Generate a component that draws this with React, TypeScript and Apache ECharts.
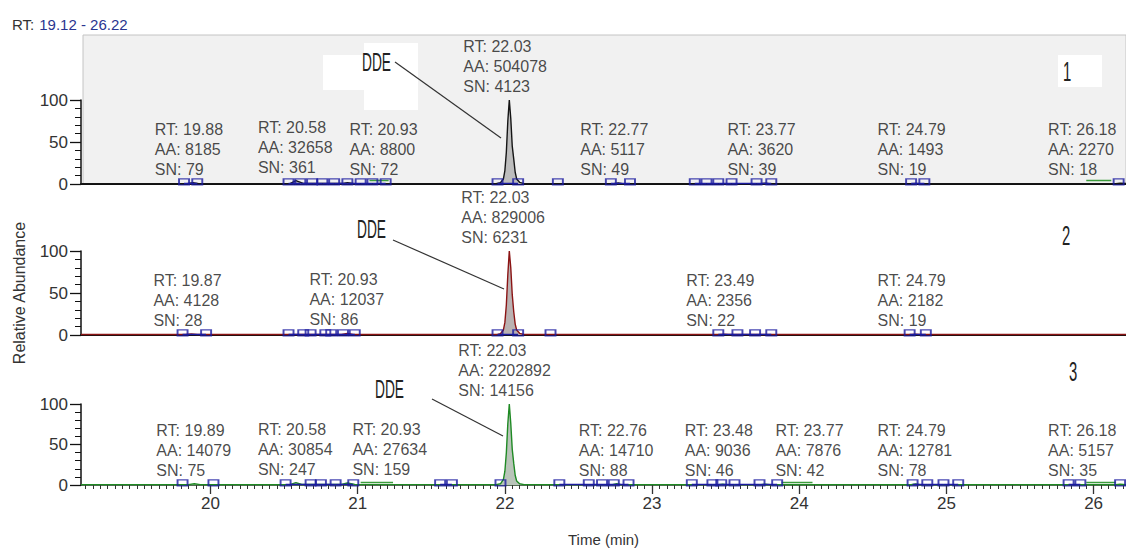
import React, { useEffect, useRef } from 'react';
import * as echarts from 'echarts';

const FONT = '"Liberation Sans", Arial, sans-serif';

const RT_MIN = 19.12;
const RT_MAX = 26.22;
const xTickLabels = [20, 21, 22, 23, 24, 25, 26];
const yTickInterval = 50;

// chromatogram traces [time (min), relative abundance %]
const trace1: [number, number][] = [
  [19.12, 0.5], [19.84, 0.5], [19.88, 1.6], [19.92, 0.5],
  [20.54, 0.5], [20.58, 4.0], [20.63, 0.8], [20.90, 0.6], [20.93, 1.6], [20.97, 0.6],
  [21.94, 0.5], [21.97, 1.5], [21.99, 6], [22.00, 16], [22.01, 38], [22.02, 75], [22.03, 100],
  [22.04, 78], [22.05, 45], [22.06, 30], [22.07, 14], [22.08, 6], [22.10, 2], [22.13, 0.5],
  [22.74, 0.5], [22.77, 1.2], [22.80, 0.5], [23.74, 0.5], [23.77, 1.0], [23.80, 0.5],
  [24.76, 0.5], [24.79, 0.7], [24.82, 0.5], [26.15, 0.5], [26.18, 1.0], [26.22, 0.6],
];
const trace2: [number, number][] = [
  [19.12, 0.6], [19.83, 0.6], [19.87, 1.2], [19.91, 0.6], [20.89, 0.6], [20.93, 1.8], [20.97, 0.6],
  [21.95, 0.6], [21.97, 1.5], [21.99, 6], [22.00, 15], [22.01, 36], [22.02, 72], [22.03, 100],
  [22.04, 80], [22.05, 48], [22.06, 28], [22.07, 13], [22.08, 6], [22.10, 2], [22.13, 0.6],
  [23.46, 0.6], [23.49, 1.0], [23.52, 0.6], [24.76, 0.6], [24.79, 1.0], [24.82, 0.6], [26.22, 0.6],
];
const trace3: [number, number][] = [
  [19.12, 0.5], [19.85, 0.5], [19.89, 1.6], [19.93, 0.5], [20.54, 0.5], [20.58, 3.0], [20.62, 0.6],
  [20.89, 0.6], [20.93, 2.5], [20.98, 0.8], [21.94, 0.5], [21.97, 1.5], [21.99, 7], [22.00, 17],
  [22.01, 40], [22.02, 76], [22.03, 100], [22.04, 76], [22.05, 44], [22.06, 27], [22.07, 12],
  [22.08, 5], [22.10, 1.5], [22.13, 0.5], [22.73, 0.5], [22.76, 1.5], [22.79, 0.5], [23.45, 0.5],
  [23.48, 1.1], [23.51, 0.5], [23.74, 0.5], [23.77, 1.0], [23.80, 0.5], [24.76, 0.5], [24.79, 1.4],
  [24.82, 0.5], [26.15, 0.5], [26.18, 0.9], [26.22, 0.5],
];

// peak annotations [RT, AA, SN]
const peaks1: [number, number, number][] = [
  [19.88, 8185, 79], [20.58, 32658, 361], [20.93, 8800, 72], [22.03, 504078, 4123],
  [22.77, 5117, 49], [23.77, 3620, 39], [24.79, 1493, 19], [26.18, 2270, 18],
];
const peaks2: [number, number, number][] = [
  [19.87, 4128, 28], [20.93, 12037, 86], [22.03, 829006, 6231], [23.49, 2356, 22], [24.79, 2182, 19],
];
const peaks3: [number, number, number][] = [
  [19.89, 14079, 75], [20.58, 30854, 247], [20.93, 27634, 159], [22.03, 2202892, 14156],
  [22.76, 14710, 88], [23.48, 9036, 46], [23.77, 7876, 42], [24.79, 12781, 78], [26.18, 5157, 35],
];

// integration boundary markers (min)
const squares1 = [19.82, 19.91, 20.53, 20.61, 20.69, 20.76, 20.84, 20.93, 21.02, 21.10, 21.19,
  21.95, 22.09, 22.36, 22.72, 22.85, 23.29, 23.37, 23.45, 23.54, 23.71, 23.81, 24.76, 24.85, 26.17];
const squares2 = [19.81, 19.97, 20.53, 20.63, 20.68, 20.78, 20.82, 20.90, 20.98, 21.95, 22.09,
  22.31, 23.45, 23.58, 23.70, 23.81, 24.75, 24.86];
const squares3 = [19.81, 20.02, 20.51, 20.68, 20.75, 20.85, 20.97, 21.56, 21.64, 21.97, 22.37,
  22.57, 22.66, 22.74, 22.84, 23.27, 23.41, 23.47, 23.56, 23.73, 23.85, 24.77, 24.87, 24.98, 25.08,
  25.83, 25.91, 26.18];

// green baseline segments [start, end]
const green1: [number, number][] = [[21.08, 21.21], [25.95, 26.12]];
const green2: [number, number][] = [];
const green3: [number, number][] = [[21.02, 21.24], [23.88, 24.09], [25.95, 26.15]];

// ---- styling (not data) ----
const GRID_TOP = [100, 251, 404];
const GRID_H = 84;
const GRID_LEFT = 81;
const LABEL_DX_DEFAULT = -38;
const labelDx: Record<string, number> = {
  '0:20.93': 2, '2:20.93': 5, '2:23.77': 10, '0:26.18': -72, '2:26.18': -72,
  '0:22.03': -46, '1:22.03': -48, '2:22.03': -51,
};
const panelStyle = [
  { line: '#151515', fill: '#bdbdbd', axis: '#111' },
  { line: '#8b1414', fill: '#bab2b2', axis: '#111' },
  { line: '#1f8a24', fill: '#b9c4b9', axis: '#1d3d1d' },
];
const BLUE = '#1c1ca0';
const GREEN_MARK = '#3c9c3c';

const panels = [
  { trace: trace1, peaks: peaks1, squares: squares1, green: green1 },
  { trace: trace2, peaks: peaks2, squares: squares2, green: green2 },
  { trace: trace3, peaks: peaks3, squares: squares3, green: green3 },
];

function peakHeight(trace: [number, number][], rt: number) {
  let h = 0;
  for (const [t, v] of trace) if (Math.abs(t - rt) <= 0.03 && v > h) h = v;
  return h;
}

function buildOption() {
  const minorTicks: number[] = [];
  for (let k = Math.ceil(RT_MIN * 20); k <= Math.floor(RT_MAX * 20); k++) {
    if (k % 20 !== 0) minorTicks.push(k / 20);
  }

  const grid = panels.map((_, i) => ({ left: GRID_LEFT, right: 0, top: GRID_TOP[i], height: GRID_H }));

  const xAxis: any[] = panels.map((_, i) => ({
    gridIndex: i,
    type: 'value',
    min: RT_MIN,
    max: RT_MAX,
    axisLine: { show: true, onZero: false, lineStyle: { color: panelStyle[i].axis, width: i === 2 ? 1.5 : 2 } },
    axisTick: i === 2
      ? { show: true, customValues: xTickLabels, length: 9, lineStyle: { color: '#333', width: 1.3 } }
      : { show: false },
    axisLabel: i === 2
      ? { show: true, customValues: xTickLabels, fontSize: 17, color: '#333', margin: 10, fontFamily: FONT }
      : { show: false },
    splitLine: { show: false },
    name: i === 2 ? 'Time (min)' : '',
    nameLocation: 'middle',
    nameGap: 47,
    nameTextStyle: { fontSize: 15, color: '#333', fontFamily: FONT },
  }));
  xAxis.push({
    gridIndex: 2,
    type: 'value',
    min: RT_MIN,
    max: RT_MAX,
    position: 'bottom',
    axisLine: { show: false },
    axisTick: { show: true, customValues: minorTicks, length: 4, lineStyle: { color: '#333', width: 1 } },
    axisLabel: { show: false },
    splitLine: { show: false },
  });

  const yAxis = panels.map((_, i) => ({
    gridIndex: i,
    type: 'value',
    min: 0,
    max: 100,
    interval: yTickInterval,
    axisLine: { show: true, lineStyle: { color: '#111', width: 1.5 } },
    axisTick: { show: true, length: 11, lineStyle: { color: '#111', width: 1.3 } },
    minorTick: { show: true, splitNumber: 5, length: 6, lineStyle: { color: '#111', width: 1 } },
    axisLabel: { fontSize: 17, color: '#333', margin: 13, fontFamily: FONT },
    splitLine: { show: false },
    minorSplitLine: { show: false },
    name: i === 1 ? 'Relative Abundance' : '',
    nameLocation: 'middle',
    nameGap: 54,
    nameTextStyle: { fontSize: 16, color: '#333', fontFamily: FONT },
  }));

  const series: any[] = [];
  panels.forEach((p, i) => {
    series.push({
      type: 'line',
      xAxisIndex: i,
      yAxisIndex: i,
      data: p.trace,
      showSymbol: false,
      symbol: 'none',
      lineStyle: { color: panelStyle[i].line, width: 1.4 },
      areaStyle: { color: panelStyle[i].fill, opacity: 1 },
      z: 3,
    });
    series.push({
      type: 'lines',
      coordinateSystem: 'cartesian2d',
      xAxisIndex: i,
      yAxisIndex: i,
      data: p.green.map(([a, b]) => ({ coords: [[a, 4], [b, 4]] })),
      lineStyle: { color: GREEN_MARK, width: 1.3, opacity: 1 },
      z: 4,
    });
    const segs: { coords: number[][] }[] = [];
    for (let k = 0; k + 1 < p.squares.length; k++) {
      if (p.squares[k + 1] - p.squares[k] < 0.2) segs.push({ coords: [[p.squares[k], 1.2], [p.squares[k + 1], 1.2]] });
    }
    series.push({
      type: 'lines',
      coordinateSystem: 'cartesian2d',
      xAxisIndex: i,
      yAxisIndex: i,
      data: segs,
      lineStyle: { color: BLUE, width: 1.3, opacity: 1 },
      z: 4,
    });
    series.push({
      type: 'scatter',
      xAxisIndex: i,
      yAxisIndex: i,
      data: p.squares.map((t) => [t, 2.6]),
      symbol: 'rect',
      symbolSize: [10, 6],
      itemStyle: { color: 'rgba(0,0,0,0)', borderColor: BLUE, borderWidth: 1.5 },
      z: 5,
      silent: true,
    });
    series.push({
      type: 'scatter',
      xAxisIndex: i,
      yAxisIndex: i,
      data: p.peaks.map(([rt]) => {
        const key = `${i}:${rt.toFixed(2)}`;
        const dx = labelDx[key] !== undefined ? labelDx[key] : LABEL_DX_DEFAULT;
        return { value: [rt, peakHeight(p.trace, rt)], label: { offset: [dx, 0] } };
      }),
      symbolSize: 1,
      itemStyle: { color: 'rgba(0,0,0,0)' },
      z: 6,
      label: {
        show: true,
        position: 'top',
        distance: 3,
        align: 'left',
        verticalAlign: 'bottom',
        fontSize: 16,
        lineHeight: 20,
        color: '#1a1a1a',
        fontFamily: FONT,
        formatter: (prm: any) => {
          const [rt, aa, sn] = p.peaks[prm.dataIndex];
          return `RT: ${rt.toFixed(2)}\nAA: ${aa}\nSN: ${sn}`;
        },
      },
    });
  });

  const condensed = (text: string, x: number, y: number, size: number) => ({
    type: 'text',
    x,
    y,
    scaleX: 0.55,
    z: 20,
    style: { text, font: `${size}px ${FONT}`, fill: '#222', textAlign: 'left', textVerticalAlign: 'middle' },
  });
  const leader = (x1: number, y1: number, x2: number, y2: number) => ({
    type: 'line',
    z: 20,
    shape: { x1, y1, x2, y2 },
    style: { stroke: '#333', lineWidth: 1.2 },
  });

  const graphic = [
    {
      type: 'rect', z: -10,
      shape: { x: 83, y: 35, width: 1043, height: 149 },
      style: { fill: '#f1f1f1', stroke: '#c4c4c4', lineWidth: 1 },
    },
    { type: 'rect', z: -9, shape: { x: 323, y: 55, width: 42, height: 35 }, style: { fill: '#ffffff' } },
    { type: 'rect', z: -9, shape: { x: 364, y: 43, width: 54, height: 67 }, style: { fill: '#ffffff' } },
    { type: 'rect', z: -9, shape: { x: 1058, y: 55, width: 44, height: 32 }, style: { fill: '#ffffff' } },
    condensed('DDE', 362, 62, 25),
    condensed('DDE', 357, 229, 25),
    condensed('DDE', 375, 389, 25),
    leader(395, 62, 501, 138),
    leader(393, 240, 504, 289),
    leader(432, 399, 503, 436),
    condensed('1', 1063, 72, 27),
    condensed('2', 1062, 236, 27),
    condensed('3', 1069, 372, 27),
  ];

  return {
    animation: false,
    backgroundColor: '#ffffff',
    title: {
      text: `{a|RT:} {b|${RT_MIN.toFixed(2)} - ${RT_MAX.toFixed(2)}}`,
      left: 7,
      top: 10,
      textStyle: {
        fontWeight: 'normal',
        rich: {
          a: { color: '#333', fontSize: 15, fontWeight: 'normal', fontFamily: FONT },
          b: { color: '#2a3590', fontSize: 15, fontWeight: 'normal', fontFamily: FONT },
        },
      },
    },
    grid,
    xAxis,
    yAxis,
    series,
    graphic,
  };
}

export default function App() {
  const ref = useRef<HTMLDivElement>(null);
  useEffect(() => {
    if (!ref.current) return;
    const chart = echarts.init(ref.current, undefined, { renderer: 'svg' });
    chart.setOption(buildOption() as any);
    return () => chart.dispose();
  }, []);
  return (
    <div
      ref={ref}
      style={{ position: 'fixed', left: 0, top: 0, width: 1126, height: 548, background: '#fff' }}
    />
  );
}
